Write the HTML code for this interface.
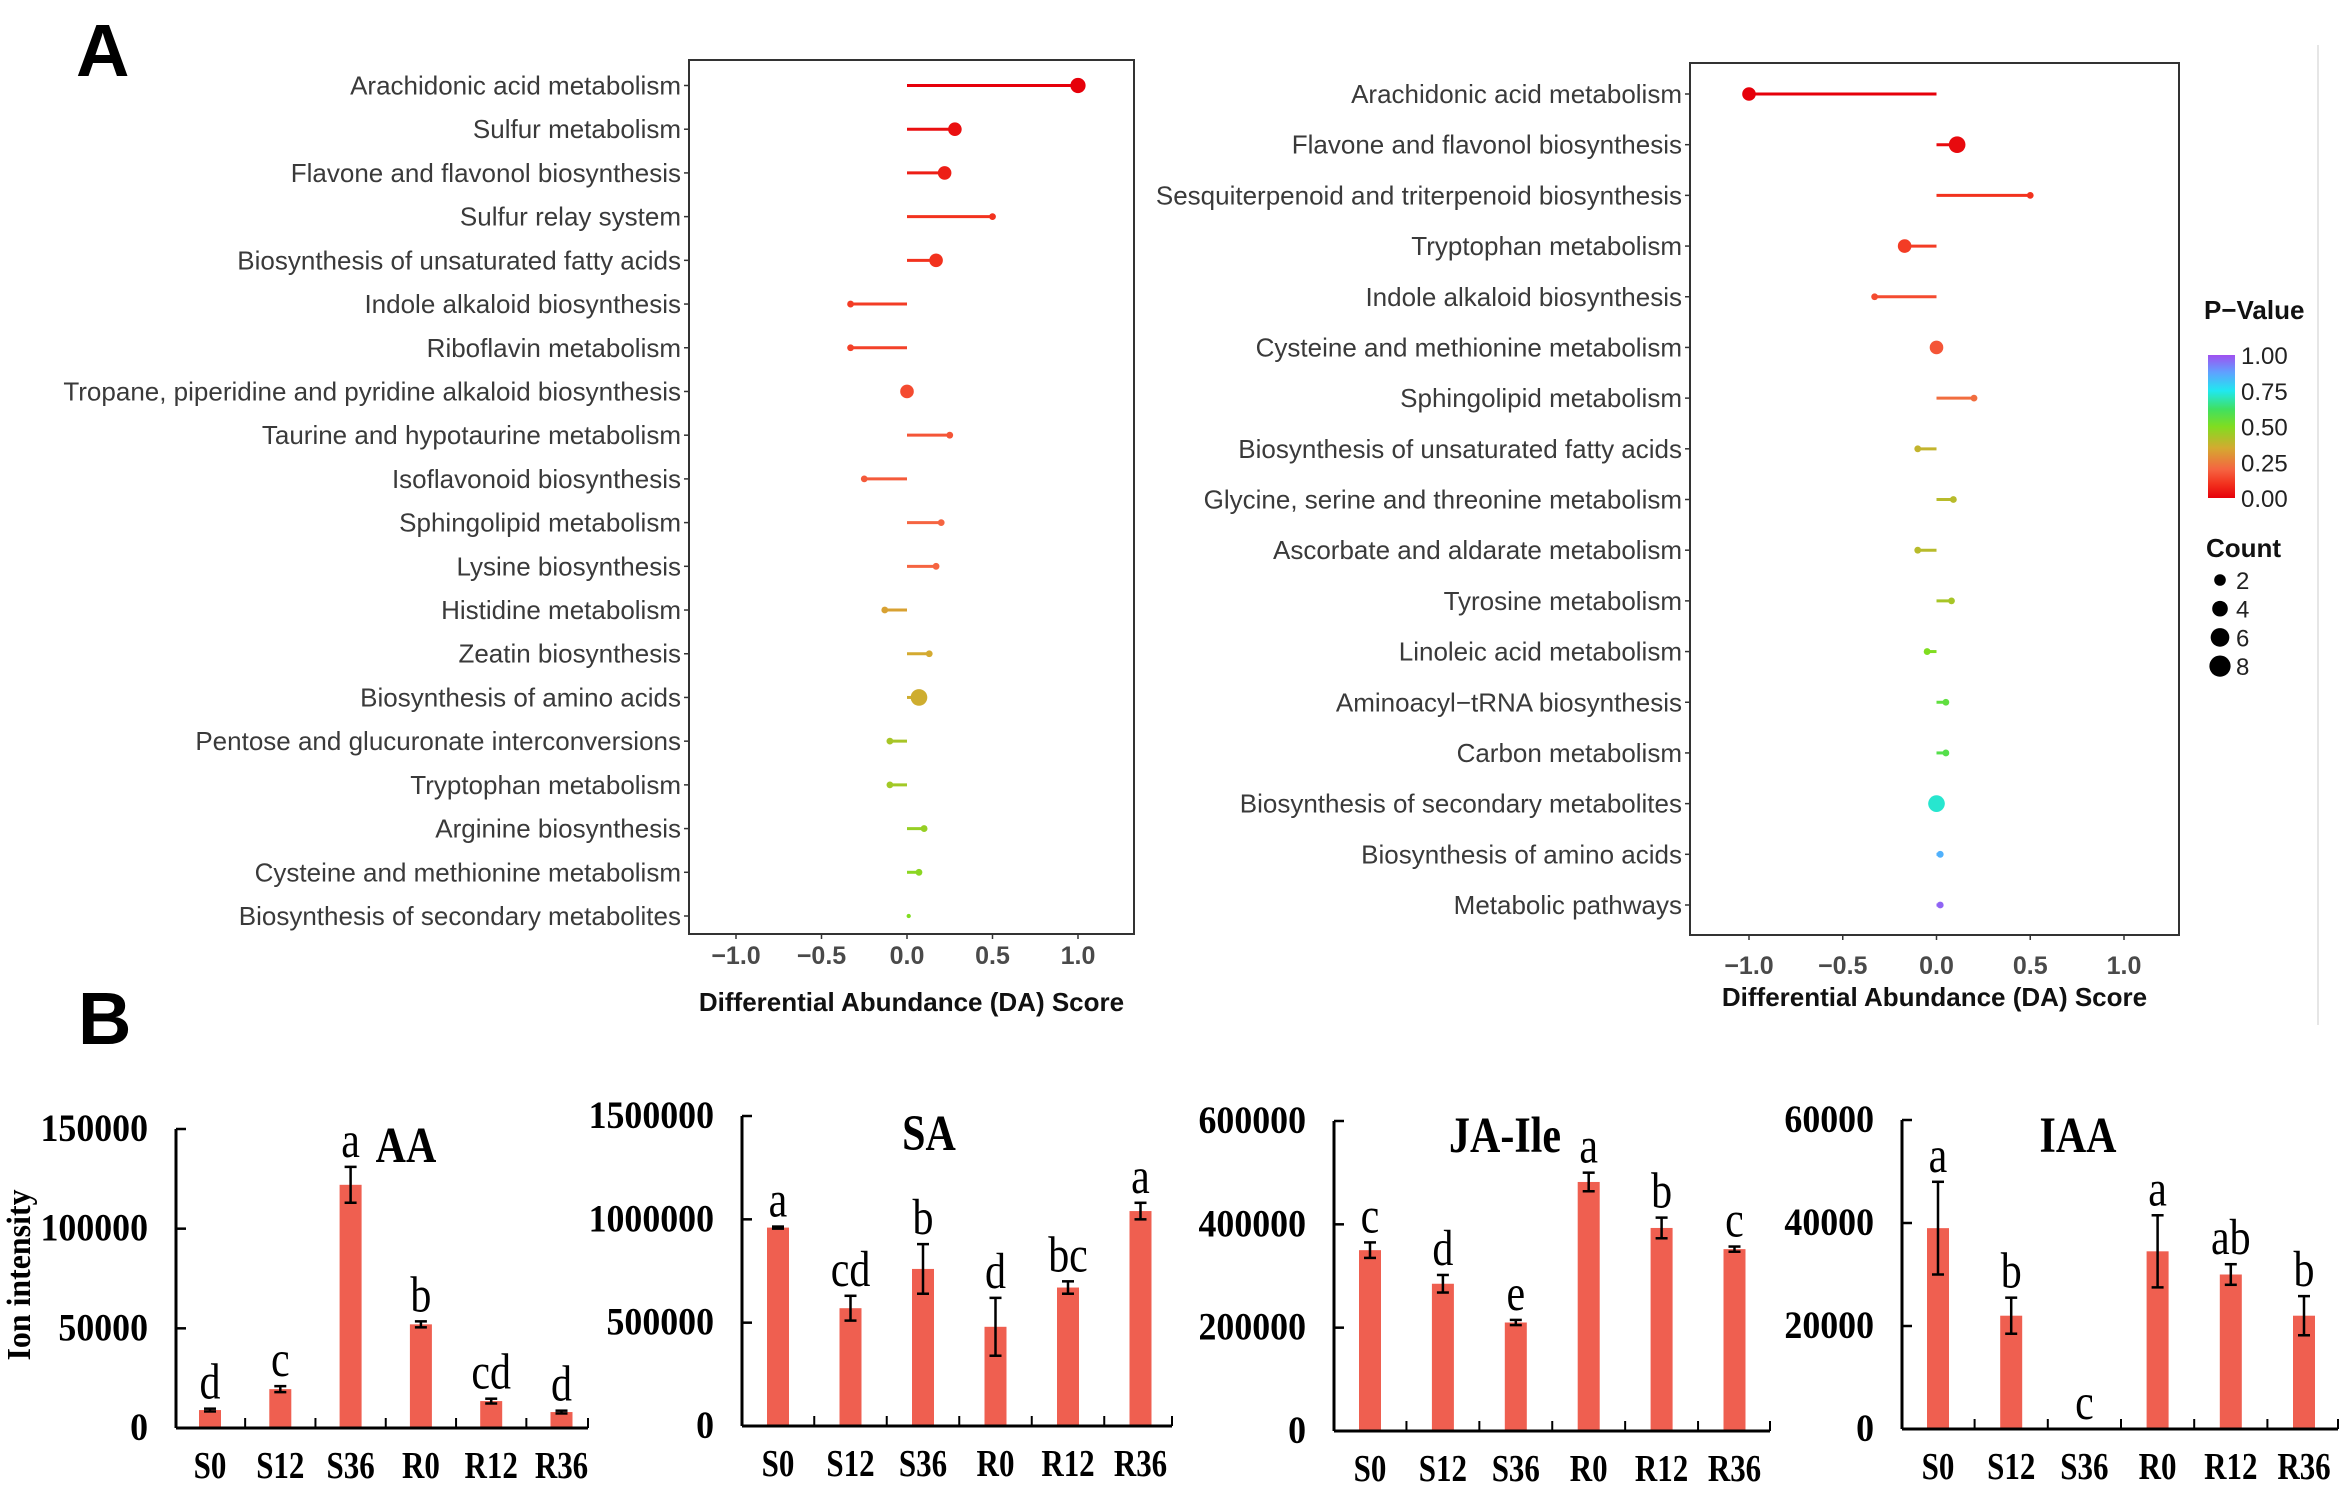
<!DOCTYPE html>
<html><head><meta charset="utf-8"><style>
html,body{margin:0;padding:0;background:#fff;}
svg{display:block;}
.lab{font-family:"Liberation Sans",sans-serif;font-size:26px;fill:#3a3a3a;}
.tick{font-family:"Liberation Sans",sans-serif;font-size:25px;font-weight:bold;fill:#4a4a4a;}
.atitle{font-family:"Liberation Sans",sans-serif;font-size:26px;font-weight:bold;fill:#111;}
.leg{font-family:"Liberation Sans",sans-serif;font-size:24px;fill:#222;}
.ser{font-family:"Liberation Serif",serif;}
</style></head><body>
<svg id="fig" width="2344" height="1488" viewBox="0 0 2344 1488" xmlns="http://www.w3.org/2000/svg">
<rect width="2344" height="1488" fill="#fff"/>
<text x="76" y="76" font-family="Liberation Sans,sans-serif" font-weight="bold" font-size="74">A</text>
<text x="78" y="1044" font-family="Liberation Sans,sans-serif" font-weight="bold" font-size="74">B</text>
<line x1="2318" y1="45" x2="2318" y2="1025" stroke="#ddd" stroke-width="1.5"/>
</svg>
<script>
// ---------- Panel A left data ----------
const leftPathways = ["Arachidonic acid metabolism","Sulfur metabolism","Flavone and flavonol biosynthesis","Sulfur relay system","Biosynthesis of unsaturated fatty acids","Indole alkaloid biosynthesis","Riboflavin metabolism","Tropane, piperidine and pyridine alkaloid biosynthesis","Taurine and hypotaurine metabolism","Isoflavonoid biosynthesis","Sphingolipid metabolism","Lysine biosynthesis","Histidine metabolism","Zeatin biosynthesis","Biosynthesis of amino acids","Pentose and glucuronate interconversions","Tryptophan metabolism","Arginine biosynthesis","Cysteine and methionine metabolism","Biosynthesis of secondary metabolites"];
const leftScores = [1.0,0.28,0.22,0.5,0.17,-0.33,-0.33,0.0,0.25,-0.25,0.2,0.17,-0.13,0.13,0.07,-0.1,-0.1,0.1,0.07,0.01];
const leftPvalues = [0.0,0.03,0.06,0.1,0.1,0.12,0.13,0.15,0.17,0.18,0.2,0.2,0.33,0.35,0.36,0.43,0.44,0.46,0.48,0.5];
const leftCounts = [5,4,4,1,4,1,1,4,1,1,1,1,1,1,6,1,1,1,1,0.4];
// ---------- Panel A right data ----------
const rightPathways = ["Arachidonic acid metabolism","Flavone and flavonol biosynthesis","Sesquiterpenoid and triterpenoid biosynthesis","Tryptophan metabolism","Indole alkaloid biosynthesis","Cysteine and methionine metabolism","Sphingolipid metabolism","Biosynthesis of unsaturated fatty acids","Glycine, serine and threonine metabolism","Ascorbate and aldarate metabolism","Tyrosine metabolism","Linoleic acid metabolism","Aminoacyl\u2212tRNA biosynthesis","Carbon metabolism","Biosynthesis of secondary metabolites","Biosynthesis of amino acids","Metabolic pathways"];
const rightScores = [-1.0,0.11,0.5,-0.17,-0.33,0.0,0.2,-0.1,0.09,-0.1,0.08,-0.05,0.05,0.05,0.0,0.02,0.02];
const rightPvalues = [0.0,0.02,0.1,0.12,0.15,0.17,0.22,0.38,0.4,0.4,0.43,0.5,0.56,0.58,0.72,0.85,0.97];
const rightCounts = [4,6,1,4,1,4,1,1,1,1,1,1,1,1,6,1,1];
const xTicks = [-1.0,-0.5,0.0,0.5,1.0];
const xTickLabels = ["\u22121.0","\u22120.5","0.0","0.5","1.0"];
const legendP = [1.0,0.75,0.5,0.25,0.0];
const legendPLabels = ["1.00","0.75","0.50","0.25","0.00"];
const legendCounts = [2,4,6,8];
// ---------- Panel B data ----------
const groups = ["S0","S12","S36","R0","R12","R36"];
const aaValues = [9000,19500,122000,52000,13500,8000];
const aaErrors = [700,1500,9000,1500,1200,700];
const aaLetters = ["d","c","a","b","cd","d"];
const aaTicks = [0,50000,100000,150000];
const saValues = [960000,570000,760000,480000,670000,1040000];
const saErrors = [5000,60000,120000,140000,30000,40000];
const saLetters = ["a","cd","b","d","bc","a"];
const saTicks = [0,500000,1000000,1500000];
const jaValues = [350000,285000,210000,482000,393000,352000];
const jaErrors = [15000,17000,5000,18000,20000,5000];
const jaLetters = ["c","d","e","a","b","c"];
const jaTicks = [0,200000,400000,600000];
const iaaValues = [39000,22000,0,34500,30000,22000];
const iaaErrors = [9000,3500,0,7000,2000,3800];
const iaaLetters = ["a","b","c","a","ab","b"];
const iaaTicks = [0,20000,40000,60000];

const NS="http://www.w3.org/2000/svg";
const svg=document.getElementById('fig');
function mk(tag,attrs,parent,txt){const e=document.createElementNS(NS,tag);for(const k in attrs)e.setAttribute(k,attrs[k]);if(txt!==undefined)e.textContent=txt;(parent||svg).appendChild(e);return e;}

const stops=[[0,[230,0,10]],[0.1,[242,50,30]],[0.2,[245,100,65]],[0.35,[212,170,48]],[0.5,[128,221,32]],[0.62,[64,224,96]],[0.75,[32,232,240]],[0.88,[96,160,255]],[1,[160,80,240]]];
function pColor(p){for(let i=0;i<stops.length-1;i++){const a=stops[i],b=stops[i+1];if(p<=b[0]){const t=(p-a[0])/(b[0]-a[0]);const c=a[1].map((v,j)=>Math.round(v+(b[1][j]-v)*t));return `rgb(${c[0]},${c[1]},${c[2]})`;}}return 'rgb(160,80,240)';}
function rad(c){return 3.4*Math.sqrt(c);}

function lollipop(cfg,names,scores,pv,counts,prefix){
  const g=mk('g',{});
  
  
  const xs=v=>cfg.x0+v*cfg.unit;
  const ys=i=>cfg.firstY+i*(cfg.lastY-cfg.firstY)/(names.length-1);
  const frame=mk('rect',{x:cfg.left,y:cfg.top,width:cfg.right-cfg.left,height:cfg.bottom-cfg.top,fill:'none',stroke:'#333','stroke-width':2},g);
  
  
  names.forEach((n,i)=>{
    const y=ys(i);
    const t=mk('text',{x:cfg.left-8,y:y+9,'text-anchor':'end',class:'lab'},g,n);
    
    
    mk('line',{x1:cfg.left-5,x2:cfg.left,y1:y,y2:y,stroke:'#333','stroke-width':1.5},g);
    const col=pColor(pv[i]);
    const ln=mk('line',{x1:xs(0),x2:xs(scores[i]),y1:y,y2:y,stroke:col,'stroke-width':3},g);
    
    
    const c=mk('circle',{cx:xs(scores[i]),cy:y,r:rad(counts[i]),fill:col},g);
    
    
  });
  xTicks.forEach((v,i)=>{
    mk('line',{x1:xs(v),x2:xs(v),y1:cfg.bottom,y2:cfg.bottom+5,stroke:'#333','stroke-width':1.5},g);
    const t=mk('text',{x:xs(v),y:cfg.tickY,'text-anchor':'middle',class:'tick'},g,xTickLabels[i]);
    
    
  });
  const at=mk('text',{x:(cfg.left+cfg.right)/2,y:cfg.titleY,'text-anchor':'middle',class:'atitle'},g,'Differential Abundance (DA) Score');
  
  
}
lollipop({left:689,right:1134,top:60,bottom:934,x0:907,unit:171,firstY:85.5,lastY:916,tickY:964,titleY:1011},leftPathways,leftScores,leftPvalues,leftCounts,'left');
lollipop({left:1690,right:2179,top:63,bottom:935,x0:1936.5,unit:187.5,firstY:94,lastY:905,tickY:974,titleY:1006},rightPathways,rightScores,rightPvalues,rightCounts,'right');

// legend
const lg=mk('g',{});


const pt=mk('text',{x:2204,y:319,class:'atitle'},lg,'P\u2212Value');


const defs=mk('defs',{},lg);
const grad=mk('linearGradient',{id:'pg',x1:0,y1:1,x2:0,y2:0},defs);
stops.forEach(s=>mk('stop',{offset:s[0],'stop-color':pColor(s[0])},grad));
const cb=mk('rect',{x:2208,y:355,width:27,height:143,fill:'url(#pg)'},lg);


legendP.forEach((p,i)=>{
  const y=498-p*143;
  const t=mk('text',{x:2241,y:y+9,class:'leg'},lg,legendPLabels[i]);
  
  
});
const ct=mk('text',{x:2206,y:557,class:'atitle'},lg,'Count');


legendCounts.forEach((c,i)=>{
  const y=580+i*28.7;
  const d=mk('circle',{cx:2220,cy:y,r:rad(c)+1,fill:'#000'},lg);
  
  
  const t=mk('text',{x:2236,y:y+9,class:'leg'},lg,String(c));
  
  
});

// stretched serif text helper (reference text is vertically elongated)
function stext(x,y,txt,size,bold,anchor,parent,sx){
  const a={transform:`translate(${x},${y}) scale(${sx||1},1.22)`,'text-anchor':anchor,class:'ser','font-size':size};
  if(bold)a['font-weight']='bold';
  return mk('text',a,parent,txt);
}

// ---------- bar charts ----------
function barChart(cfg,values,errors,letters,ticks,prefix){
  const g=mk('g',{});
  
  
  const ys=v=>cfg.base-(v/cfg.max)*(cfg.base-cfg.topY);
  const xc=i=>cfg.c0+i*cfg.step;
  values.forEach((v,i)=>{
    const x=xc(i);
    if(v>0){
      const b=mk('rect',{x:x-11,y:ys(v),width:22,height:cfg.base-ys(v),fill:'#ef5f50'},g);
      
      
    }
    if(errors[i]>0){
      const y1=ys(v+errors[i]),y2=ys(v-errors[i]);
      mk('line',{x1:x,x2:x,y1:y1,y2:y2,stroke:'#000','stroke-width':2.5},g);
      mk('line',{x1:x-6,x2:x+6,y1:y1,y2:y1,stroke:'#000','stroke-width':2.5},g);
      mk('line',{x1:x-6,x2:x+6,y1:y2,y2:y2,stroke:'#000','stroke-width':2.5},g);
    }
    const ly=ys(v+errors[i])-10;
    const l=stext(x,ly,letters[i],42,false,'middle',g);
    
    
    const cl=stext(x,cfg.base+50,groups[i],31,true,'middle',g);
    
    
    if(i>0){mk('line',{x1:x-cfg.step/2,x2:x-cfg.step/2,y1:cfg.base,y2:cfg.base-10,stroke:'#000','stroke-width':2},g);}
  });
  mk('line',{x1:cfg.axisX,x2:cfg.axisX,y1:cfg.topY,y2:cfg.base,stroke:'#000','stroke-width':3},g);
  mk('line',{x1:cfg.axisX,x2:cfg.axisEnd,y1:cfg.base,y2:cfg.base,stroke:'#000','stroke-width':3},g);
  mk('line',{x1:cfg.axisEnd,x2:cfg.axisEnd,y1:cfg.base,y2:cfg.base-10,stroke:'#000','stroke-width':2},g);
  ticks.forEach(t=>{
    const y=ys(t);
    mk('line',{x1:cfg.axisX,x2:cfg.axisX+10,y1:y,y2:y,stroke:'#000','stroke-width':2.5},g);
    const tl=stext(cfg.axisX-28,y+12,String(t),32,true,'end',g,1.12);
    
    
  });
  const tt=stext(cfg.titleX,cfg.titleY,cfg.title,42,true,'middle',g);
  
  
}
barChart({axisX:176,axisEnd:588,base:1428,topY:1129,max:150000,c0:210,step:70.3,title:'AA',titleX:406,titleY:1162},aaValues,aaErrors,aaLetters,aaTicks,'aa');
barChart({axisX:742,axisEnd:1172,base:1426,topY:1116,max:1500000,c0:778,step:72.5,title:'SA',titleX:929,titleY:1150},saValues,saErrors,saLetters,saTicks,'sa');
barChart({axisX:1334,axisEnd:1770,base:1431,topY:1121,max:600000,c0:1370,step:72.9,title:'JA-Ile',titleX:1505,titleY:1152},jaValues,jaErrors,jaLetters,jaTicks,'ja-ile');
barChart({axisX:1902,axisEnd:2338,base:1429,topY:1120,max:60000,c0:1938,step:73.2,title:'IAA',titleX:2078,titleY:1152},iaaValues,iaaErrors,iaaLetters,iaaTicks,'iaa');
const yt=mk('text',{x:0,y:0,'text-anchor':'middle',class:'ser','font-size':'29','font-weight':'bold',transform:'translate(30,1275) rotate(-90) scale(1.1,1.15)'},svg,'Ion intensity');


</script>
</body></html>
